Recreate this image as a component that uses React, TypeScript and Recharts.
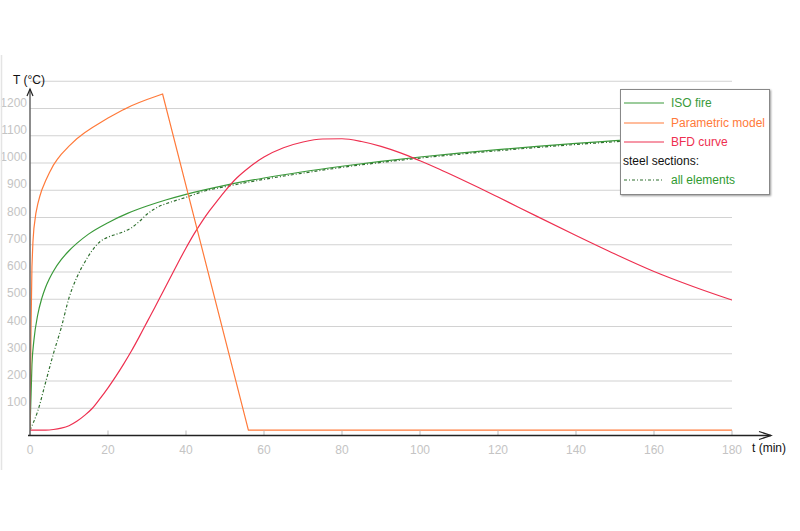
import { CartesianGrid, Legend, Line, LineChart, XAxis, YAxis } from 'recharts';

// ISO 834 standard fire curve
const isoMinutes = [0, 0.5, 1, 2, 3, 4, 5, 6, 8, 10, 12, 15, 20, 25, 30, 35, 40, 50, 60, 70, 80, 90, 100, 110, 120, 130, 140, 150, 160, 170, 180];
const isoTemps = [20, 261, 349, 444, 502, 544, 576, 603, 645, 678, 705, 739, 781, 815, 842, 865, 885, 918, 945, 968, 988, 1006, 1022, 1036, 1049, 1061, 1072, 1082, 1092, 1101, 1110];

// parametric fire (heating, linear cooling, then ambient)
const paramMinutes = [0, 0.25, 0.5, 0.75, 1, 1.5, 2, 2.5, 3, 4, 5, 6, 7, 8, 10, 12, 14, 16, 18, 20, 22, 24, 26, 28, 30, 32, 34, 56, 180];
const paramTemps = [20, 380, 620, 710, 760, 815, 850, 877, 900, 935, 965, 992, 1013, 1032, 1062, 1089, 1111, 1130, 1148, 1165, 1181, 1196, 1210, 1222, 1233, 1243, 1253, 20, 20];

// BFD curve
const bfdMinutes = [0, 4, 6, 8, 10, 12, 14, 16, 18, 20, 22, 24, 26, 28, 30, 32, 34, 36, 38, 40, 42, 44, 46, 48, 50, 53, 56, 60, 65, 70, 75, 80, 85, 90, 95, 100, 105, 110, 115, 120, 130, 140, 150, 160, 170, 180];
const bfdTemps = [20, 20, 22, 27, 36, 52, 74, 100, 136, 175, 217, 262, 310, 362, 416, 470, 525, 580, 635, 688, 738, 783, 824, 861, 897, 945, 982, 1022, 1056, 1077, 1088, 1089, 1079, 1061, 1037, 1008, 977, 944, 910, 875, 804, 734, 666, 602, 547, 497];

// steel sections, all elements
const steelMinutes = [0, 2, 4, 6, 8, 10, 12, 14, 16, 18, 20, 22, 24, 26, 28, 30, 33, 36, 40, 45, 50, 60, 70, 80, 90, 100, 110, 120, 130, 140, 150, 160, 170, 180];
const steelTemps = [20, 90, 195, 300, 395, 505, 580, 635, 680, 712, 728, 738, 748, 762, 785, 812, 840, 856, 874, 898, 913, 940, 963, 984, 1002, 1018, 1032, 1045, 1057, 1068, 1078, 1088, 1097, 1106];

const xTicks = [0, 20, 40, 60, 80, 100, 120, 140, 160, 180];
const yTicks = [100, 200, 300, 400, 500, 600, 700, 800, 900, 1000, 1100, 1200];
const legendOrder = ['ISO fire', 'Parametric model', 'BFD curve', 'all elements'];

const toPoints = (ts: number[], vs: number[]) => ts.map((t, i) => ({ t, T: vs[i] }));

const FONT = 'Arial, "Liberation Sans", sans-serif';
const W = 800;
const H = 531;
const PLOT_LEFT = 30;
const PLOT_RIGHT = 732;
const PLOT_TOP = 81.25;
const PLOT_BOTTOM = 435.5;

function XTick(props: any) {
  const { x, y, payload } = props;
  return (
    <g>
      <line x1={x} x2={x} y1={y - 5} y2={y} stroke="#bbb" strokeWidth={1} />
      <text x={x} y={y + 18} textAnchor="middle" fill="#c4c4c4" fontSize={12} fontFamily={FONT}>
        {payload.value}
      </text>
    </g>
  );
}

function YTick(props: any) {
  const { x, y, payload } = props;
  return (
    <text x={x} y={y - 2} textAnchor="end" fill="#c4c4c4" fontSize={12} fontFamily={FONT}>
      {payload.value}
    </text>
  );
}

function FireLegend(props: any) {
  const items = [...(props.payload || [])].sort(
    (a: any, b: any) => legendOrder.indexOf(a.value) - legendOrder.indexOf(b.value)
  );
  const rowTop = [4, 23.5, 43, 81];
  return (
    <div
      style={{
        position: 'relative',
        width: 150,
        height: 106,
        boxSizing: 'border-box',
        border: '1px solid #888',
        background: '#fff',
        boxShadow: '1px 1px 2px #999',
        fontFamily: FONT,
        fontSize: 12,
      }}
    >
      {items.map((item: any, i: number) => (
        <div key={item.value} style={{ position: 'absolute', left: 2, top: rowTop[i], height: 18, lineHeight: '18px', whiteSpace: 'nowrap' }}>
          <svg width={42} height={18} style={{ verticalAlign: 'top' }}>
            <line
              x1={1}
              x2={41}
              y1={9}
              y2={9}
              stroke={item.color}
              strokeWidth={1.2}
              strokeDasharray={item.payload?.strokeDasharray}
            />
          </svg>
          <span style={{ marginLeft: 6, color: item.value === 'all elements' ? '#2f9a2f' : item.color }}>{item.value}</span>
        </div>
      ))}
      <div style={{ position: 'absolute', left: 2, top: 62, height: 18, lineHeight: '18px', color: '#111' }}>
        steel sections:
      </div>
    </div>
  );
}

export default function App() {
  return (
    <div style={{ position: 'absolute', left: 0, top: 0, width: W, height: H, background: '#fff' }}>
      <LineChart
        width={W}
        height={H}
        margin={{ top: PLOT_TOP, right: W - PLOT_RIGHT, bottom: 0, left: 0 }}
      >
        <CartesianGrid vertical={false} stroke="#d2d2d2" strokeWidth={1.2} />
        <XAxis
          type="number"
          dataKey="t"
          domain={[0, 180]}
          ticks={xTicks}
          allowDataOverflow
          axisLine={false}
          tickLine={false}
          tickSize={0}
          tickMargin={0}
          height={H - PLOT_BOTTOM}
          tick={<XTick />}
          interval={0}
        />
        <YAxis
          type="number"
          domain={[0, 1300]}
          ticks={yTicks}
          allowDataOverflow
          axisLine={false}
          tickLine={false}
          tickSize={0}
          tickMargin={3}
          width={PLOT_LEFT}
          tick={<YTick />}
          interval={0}
        />
        <Legend
          layout="vertical"
          align="center"
          verticalAlign="middle"
          content={<FireLegend />}
          wrapperStyle={{ left: 620, top: 89, width: 150, height: 106 }}
        />
        <Line
          data={toPoints(isoMinutes, isoTemps)}
          dataKey="T"
          name="ISO fire"
          type="monotone"
          stroke="#3a9a3a"
          strokeWidth={1.2}
          dot={false}
          activeDot={false}
          isAnimationActive={false}
        />
        <Line
          data={toPoints(steelMinutes, steelTemps)}
          dataKey="T"
          name="all elements"
          type="monotone"
          stroke="#2f6f2f"
          strokeWidth={1.2}
          strokeDasharray="3 2 1 2"
          dot={false}
          activeDot={false}
          isAnimationActive={false}
        />
        <Line
          data={toPoints(bfdMinutes, bfdTemps)}
          dataKey="T"
          name="BFD curve"
          type="monotone"
          stroke="#ee3050"
          strokeWidth={1.2}
          dot={false}
          activeDot={false}
          isAnimationActive={false}
        />
        <Line
          data={toPoints(paramMinutes, paramTemps)}
          dataKey="T"
          name="Parametric model"
          type="linear"
          stroke="#ff7a3a"
          strokeWidth={1.2}
          dot={false}
          activeDot={false}
          isAnimationActive={false}
        />
      </LineChart>
      <svg
        width={W}
        height={H}
        style={{ position: 'absolute', left: 0, top: 0, pointerEvents: 'none' }}
      >
        <line x1={1.5} x2={1.5} y1={55} y2={470} stroke="#e4e4e4" strokeWidth={1.5} />
        <line x1={PLOT_LEFT} x2={PLOT_LEFT} y1={PLOT_BOTTOM} y2={89} stroke="#666" strokeWidth={1.5} />
        <polyline points={`${PLOT_LEFT - 3},96 ${PLOT_LEFT},89 ${PLOT_LEFT + 3},96`} fill="none" stroke="#222" strokeWidth={1.2} />
        <line x1={PLOT_LEFT - 2} x2={771} y1={PLOT_BOTTOM} y2={PLOT_BOTTOM} stroke="#222" strokeWidth={1.5} />
        <polyline points={`759,431.5 771,${PLOT_BOTTOM} 759,439.5`} fill="none" stroke="#222" strokeWidth={1.2} />
        <text x={13} y={84} fill="#111" fontSize={12} fontFamily={FONT}>T (°C)</text>
        <text x={752} y={452} fill="#111" fontSize={12} fontFamily={FONT}>t (min)</text>
      </svg>
    </div>
  );
}
